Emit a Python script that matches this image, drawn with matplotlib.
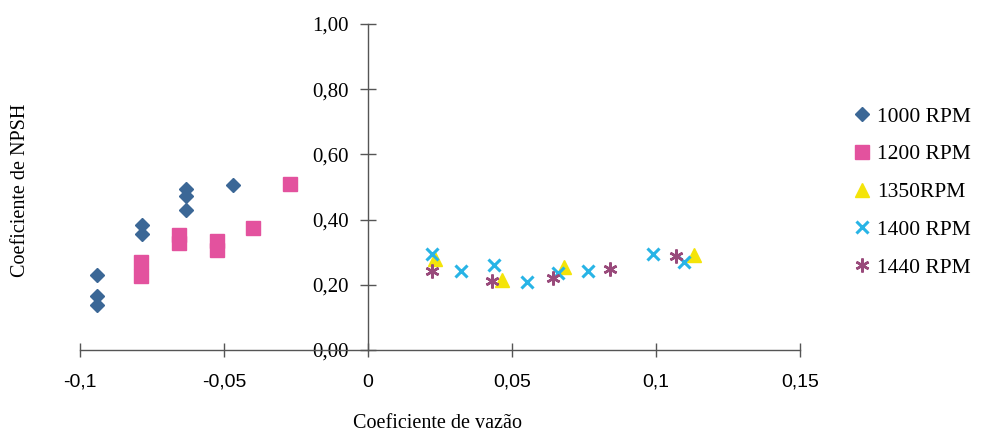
import matplotlib
matplotlib.use("Agg")
import matplotlib.pyplot as plt
from matplotlib.ticker import FixedLocator, FuncFormatter

# Flow coefficient (x) and NPSH coefficient (y) for each rotation speed
x_1000 = [-0.0941, -0.0941, -0.0941, -0.0785, -0.0785, -0.0631, -0.0631, -0.0631, -0.0470]
y_1000 = [0.229, 0.165, 0.138, 0.382, 0.355, 0.495, 0.471, 0.428, 0.505]

x_1200 = [-0.0788, -0.0788, -0.0656, -0.0656, -0.0523, -0.0523, -0.0400, -0.0270]
y_1200 = [0.269, 0.226, 0.352, 0.327, 0.333, 0.306, 0.375, 0.508]

x_1350 = [0.0234, 0.0467, 0.0680, 0.1133]
y_1350 = [0.278, 0.214, 0.254, 0.290]

x_1400 = [0.0223, 0.0324, 0.0436, 0.0551, 0.0659, 0.0764, 0.0990, 0.1098]
y_1400 = [0.294, 0.242, 0.260, 0.208, 0.235, 0.242, 0.294, 0.269]

x_1440 = [0.0223, 0.0432, 0.0642, 0.0840, 0.1070]
y_1440 = [0.242, 0.211, 0.220, 0.248, 0.287]

labels = ["1000 RPM", "1200 RPM", "1350RPM", "1400 RPM", "1440 RPM"]
x_ticks = [-0.1, -0.05, 0, 0.05, 0.1, 0.15]
y_ticks = [0.0, 0.2, 0.4, 0.6, 0.8, 1.0]

W, H = 987, 436
fig = plt.figure(figsize=(W / 100, H / 100), dpi=100)
ax = fig.add_axes([80 / W, 1 - 350 / H, (800 - 80) / W, (350 - 24) / H])

ax.plot(x_1000, y_1000, ls="none", marker="D", ms=7, color="#3b6796", label=labels[0])
ax.plot(x_1200, y_1200, ls="none", marker="s", ms=9.5, color="#e3529e", label=labels[1])
ax.plot(x_1350, y_1350, ls="none", marker="^", ms=9.5, color="#f4e409", label=labels[2])
ax.plot(x_1400, y_1400, ls="none", marker="x", ms=8.5, mew=2.2, color="#28b4e6", label=labels[3])
ax.plot(x_1440, y_1440, ls="none", marker=(6, 2, 0), ms=10, mew=1.8, color="#994a7b", label=labels[4])

ax.set_xlim(-0.1, 0.15)
ax.set_ylim(0, 1)

# Axes cross at the origin
ax.spines["left"].set_position(("data", 0))
ax.spines["bottom"].set_position(("data", 0))
ax.spines["right"].set_visible(False)
ax.spines["top"].set_visible(False)
for s in ("left", "bottom"):
    ax.spines[s].set_color("#555555")
    ax.spines[s].set_linewidth(1.0)

ax.xaxis.set_major_locator(FixedLocator(x_ticks))
ax.yaxis.set_major_locator(FixedLocator(y_ticks))
ax.xaxis.set_major_formatter(FuncFormatter(lambda v, p: f"{v:g}".replace(".", ",")))
ax.yaxis.set_major_formatter(FuncFormatter(lambda v, p: f"{v:.2f}".replace(".", ",")))

ax.tick_params(axis="x", direction="inout", length=10, width=1, color="#555555",
               pad=12, labelsize=14)
ax.tick_params(axis="y", direction="inout", length=12, width=1, color="#555555",
               pad=8, labelsize=15)
for t in ax.get_xticklabels():
    t.set_fontfamily("Liberation Sans")
for t in ax.get_yticklabels():
    t.set_fontfamily("Liberation Serif")

fig.text(21 / W, 1 - 190 / H, "Coeficiente de NPSH", rotation=90, ha="center", va="center",
         fontsize=14.5, family="Liberation Serif")
fig.text(438 / W, 1 - 423 / H, "Coeficiente de vazão", ha="center", va="center",
         fontsize=14.5, family="Liberation Serif")

leg = fig.legend(loc="upper left", bbox_to_anchor=(845 / W, 1 - 98 / H), frameon=False,
                 prop={"family": "Liberation Serif", "size": 15.5},
                 handlelength=0.8, handletextpad=0.3, labelspacing=0.82, borderaxespad=0)

fig.savefig("out.png", dpi=100, facecolor="white")
